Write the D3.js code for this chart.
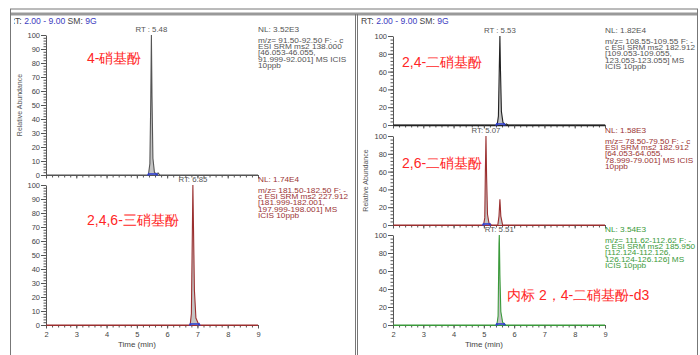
<!DOCTYPE html>
<html>
<head>
<meta charset="utf-8">
<script src="https://cdn.jsdelivr.net/npm/d3@7"></script>
<style>
  body { margin: 0; background: #fff; }
  svg { display: block; }
  text { font-family: "Liberation Sans", Arial, sans-serif; }
</style>
</head>
<body>
<svg id="chart" width="700" height="355"></svg>
<script>
// retention window shared by every trace
var timeDomain = [2, 9];
var xMajor = [2, 3, 4, 5, 6, 7, 8, 9];

// 4-nitrophenol (left, top)
var t4np = [2.0, 5.38, 5.43, 5.46, 5.48, 5.50, 5.53, 5.58, 5.66, 5.70, 5.76, 9.0];
var a4np = [0, 0, 8, 55, 100, 56, 12, 2, 0, 1.5, 0, 0];

// 2,4,6-trinitrophenol (left, bottom)
var tTnp = [2.0, 6.76, 6.80, 6.83, 6.85, 6.87, 6.90, 6.95, 7.05, 9.0];
var aTnp = [0, 0, 8, 62, 100, 70, 25, 5, 0, 0];

// 2,4-dinitrophenol (right, top)
var t24 = [2.0, 5.44, 5.48, 5.51, 5.53, 5.55, 5.58, 5.63, 5.70, 5.74, 5.80, 9.0];
var a24 = [0, 0, 10, 65, 100, 60, 15, 3, 0, 1.2, 0, 0];

// 2,6-dinitrophenol (right, middle)
var t26 = [2.0, 4.99, 5.03, 5.05, 5.07, 5.09, 5.12, 5.17, 5.25, 5.46, 5.50, 5.53, 5.56, 5.62, 9.0];
var a26 = [0, 0, 8, 60, 100, 55, 12, 2, 0, 0, 10, 29, 10, 0, 0];

// internal standard 2,4-dinitrophenol-d3 (right, bottom)
var tD3 = [2.0, 5.43, 5.47, 5.50, 5.51, 5.53, 5.56, 5.62, 5.72, 9.0];
var aD3 = [0, 0, 10, 90, 100, 55, 15, 3, 0, 0];

var rtLabels = ["RT : 5.48", "RT: 6.85", "RT : 5.53", "RT: 5.07", "RT: 5.51"];
var rtValues = [5.48, 6.85, 5.53, 5.07, 5.51];
var integStart = [5.38, 6.76, 5.42, 4.98, 5.42];
var integEnd = [5.66, 7.06, 5.68, 5.20, 5.68];

var names = ["4-硝基酚", "2,4,6-三硝基酚", "2,4-二硝基酚", "2,6-二硝基酚", "内标 2，4-二硝基酚-d3"];

var infoText = [
	["NL: 3.52E3", "m/z= 91.50-92.50 F: - c", "ESI SRM ms2 138.000", "[46.053-46.055,", "91.999-92.001]  MS  ICIS", "10ppb"],
	["NL: 1.74E4", "m/z= 181.50-182.50 F: -", "c ESI SRM ms2 227.912", "[181.999-182.001,", "197.999-198.001]  MS", "ICIS 10ppb"],
	["NL: 1.82E4", "m/z= 108.55-109.55 F: -", "c ESI SRM ms2 182.912", "[109.053-109.055,", "123.053-123.055]  MS", "ICIS 10ppb"],
	["NL: 1.58E3", "m/z= 78.50-79.50 F: - c", "ESI SRM ms2 182.912", "[64.053-64.055,", "78.999-79.001]  MS  ICIS", "10ppb"],
	["NL: 3.54E3", "m/z= 111.62-112.62 F: -", "c ESI SRM ms2 185.950", "[112.124-112.126,", "126.124-126.126]  MS", "ICIS 10ppb"]
];

var svg = d3.select("#chart");

// frame
var frame = svg.append("g").attr("stroke", "#777").attr("fill", "none");
frame.append("line").attr("x1", 10).attr("x2", 698).attr("y1", 9).attr("y2", 9).attr("stroke-width", 1);
frame.append("line").attr("x1", 10).attr("x2", 698).attr("y1", 14).attr("y2", 14).attr("stroke-width", 3).attr("stroke", "#999");
frame.append("line").attr("x1", 10.5).attr("x2", 10.5).attr("y1", 9).attr("y2", 355);
frame.append("line").attr("x1", 355.5).attr("x2", 355.5).attr("y1", 14).attr("y2", 355);
frame.append("line").attr("x1", 357.5).attr("x2", 357.5).attr("y1", 14).attr("y2", 355);
frame.append("line").attr("x1", 697.5).attr("x2", 697.5).attr("y1", 9).attr("y2", 355);

svg.append("clipPath").attr("id", "leftclip").append("rect")
	.attr("x", 14).attr("y", 15).attr("width", 340).attr("height", 340);

// header lines
function header(x, clip) {
	var t = svg.append("text").attr("x", x).attr("y", 24).attr("font-size", 8.6).attr("fill", "#444");
	if (clip) t.attr("clip-path", "url(#leftclip)");
	t.append("tspan").text("RT: ");
	t.append("tspan").attr("fill", "#3b3bc0").text("2.00 - 9.00");
	t.append("tspan").text("  SM: ");
	t.append("tspan").attr("fill", "#3b3bc0").text("9G");
}
header(9, true);
header(361, false);

var panels = [
	{t: t4np, a: a4np, x0: 46, y0: 175, y1: 35, step: 10, minor: 2, color: "#555", text: "#555", xlab: false, ytitle: 22, nameX: 87, nameY: 63},
	{t: tTnp, a: aTnp, x0: 46, y0: 325, y1: 185, step: 10, minor: 2, color: "#9b2f2f", text: "#9b3535", xlab: true, ytitle: null, nameX: 87, nameY: 225},
	{t: t24, a: a24, x0: 393, y0: 125, y1: 36, step: 20, minor: 4, color: "#222", text: "#555", xlab: false, ytitle: null, nameX: 402, nameY: 67},
	{t: t26, a: a26, x0: 393, y0: 225, y1: 136, step: 20, minor: 4, color: "#9b2f2f", text: "#9b3535", xlab: false, ytitle: 368, nameX: 402, nameY: 168},
	{t: tD3, a: aD3, x0: 393, y0: 325, y1: 235, step: 20, minor: 4, color: "#3a9a3a", text: "#3a9a3a", xlab: true, ytitle: null, nameX: 507, nameY: 300}
];

panels.forEach(function(p, i) {
	var g = svg.append("g");
	var x = d3.scaleLinear().domain(timeDomain).range([p.x0, p.x0 + 212]);
	var y = d3.scaleLinear().domain([0, 100]).range([p.y0, p.y1]);

	// axes
	var yMinor = g.append("g").attr("transform", "translate(" + p.x0 + ",0)")
		.call(d3.axisLeft(y).tickValues(d3.range(0, 100.1, p.minor)).tickSize(2.5).tickFormat(""));
	yMinor.select(".domain").remove();
	var yAx = g.append("g").attr("transform", "translate(" + p.x0 + ",0)")
		.call(d3.axisLeft(y).tickValues(d3.range(0, 100.1, p.step)).tickSize(5).tickPadding(1).tickSizeOuter(0));
	yAx.selectAll("text").attr("font-size", 7.5).attr("fill", "#444").attr("font-family", "Liberation Sans, Arial, sans-serif");

	var xMinor = g.append("g").attr("transform", "translate(0," + p.y0 + ")")
		.call(d3.axisBottom(x).tickValues(d3.range(2, 9.01, 0.2)).tickSize(2.5).tickFormat(""));
	xMinor.select(".domain").remove();
	var xAx = g.append("g").attr("transform", "translate(0," + p.y0 + ")")
		.call(d3.axisBottom(x).tickValues(xMajor).tickSize(3.5).tickPadding(3).tickSizeOuter(0)
			.tickFormat(p.xlab ? d3.format("d") : ""));
	xAx.selectAll("text").attr("font-size", 7.5).attr("fill", "#444").attr("font-family", "Liberation Sans, Arial, sans-serif");
	g.selectAll(".tick line, .domain").attr("stroke", "#555");
	xAx.select(".domain").attr("stroke", p.color).attr("stroke-width", p.color === "#222" ? 1.6 : 1);

	if (p.xlab) {
		g.append("text").attr("x", x(5.0)).attr("y", 347).attr("text-anchor", "middle")
			.attr("font-size", 8).attr("fill", "#444").text("Time (min)");
	}
	if (p.ytitle !== null) {
		g.append("text").attr("transform", "translate(" + p.ytitle + "," + ((p.y0 + p.y1) / 2) + ") rotate(-90)")
			.attr("text-anchor", "middle").attr("font-size", 7).attr("fill", "#555").text("Relative Abundance");
	}

	// trace
	var pts = p.t.map(function(d, k) { return [d, p.a[k]]; });
	var area = d3.area().x(function(d) { return x(d[0]); }).y0(y(0)).y1(function(d) { return y(d[1]); });
	var line = d3.line().x(function(d) { return x(d[0]); }).y(function(d) { return y(d[1]); });
	g.append("path").datum(pts).attr("d", area).attr("fill", "#c4c4c4");
	g.append("path").datum(pts).attr("d", line).attr("fill", "none").attr("stroke", p.color).attr("stroke-width", 1.1);

	// integration baseline markers
	var bx0 = x(integStart[i]), bx1 = x(integEnd[i]);
	g.append("line").attr("x1", bx0).attr("x2", bx1).attr("y1", y(0) - 1).attr("y2", y(0) - 1)
		.attr("stroke", "#3040d0").attr("stroke-width", 1.6);
	[bx0, bx1].forEach(function(bx) {
		g.append("path").attr("d", "M" + (bx - 1.5) + "," + (y(0) + 0.5) + "L" + bx + "," + (y(0) - 2.5) + "L" + (bx + 1.5) + "," + (y(0) + 0.5) + "Z")
			.attr("fill", "#3040d0");
	});

	// RT label
	g.append("text").attr("x", x(rtValues[i])).attr("y", p.y1 - 3).attr("text-anchor", "middle")
		.attr("font-size", 7.8).attr("fill", "#555").text(rtLabels[i]);

	// info block (instrument output is slightly stretched horizontally)
	var info = g.append("text").attr("font-size", 6.5).attr("fill", p.text)
		.attr("transform", "translate(" + (p.x0 + 212) + ",0) scale(1.27,1)");
	infoText[i].forEach(function(s, k) {
		info.append("tspan").attr("x", 0).attr("y", p.y1 - 3 + (k === 0 ? 0 : 4.4 + k * 6.3)).text(s);
	});

	// compound name
	g.append("text").attr("x", p.nameX).attr("y", p.nameY)
		.attr("font-family", "Noto Sans CJK SC, sans-serif").attr("font-size", 14).attr("font-weight", 500)
		.attr("fill", "#ff2626").text(names[i]);
});
</script>
</body>
</html>
